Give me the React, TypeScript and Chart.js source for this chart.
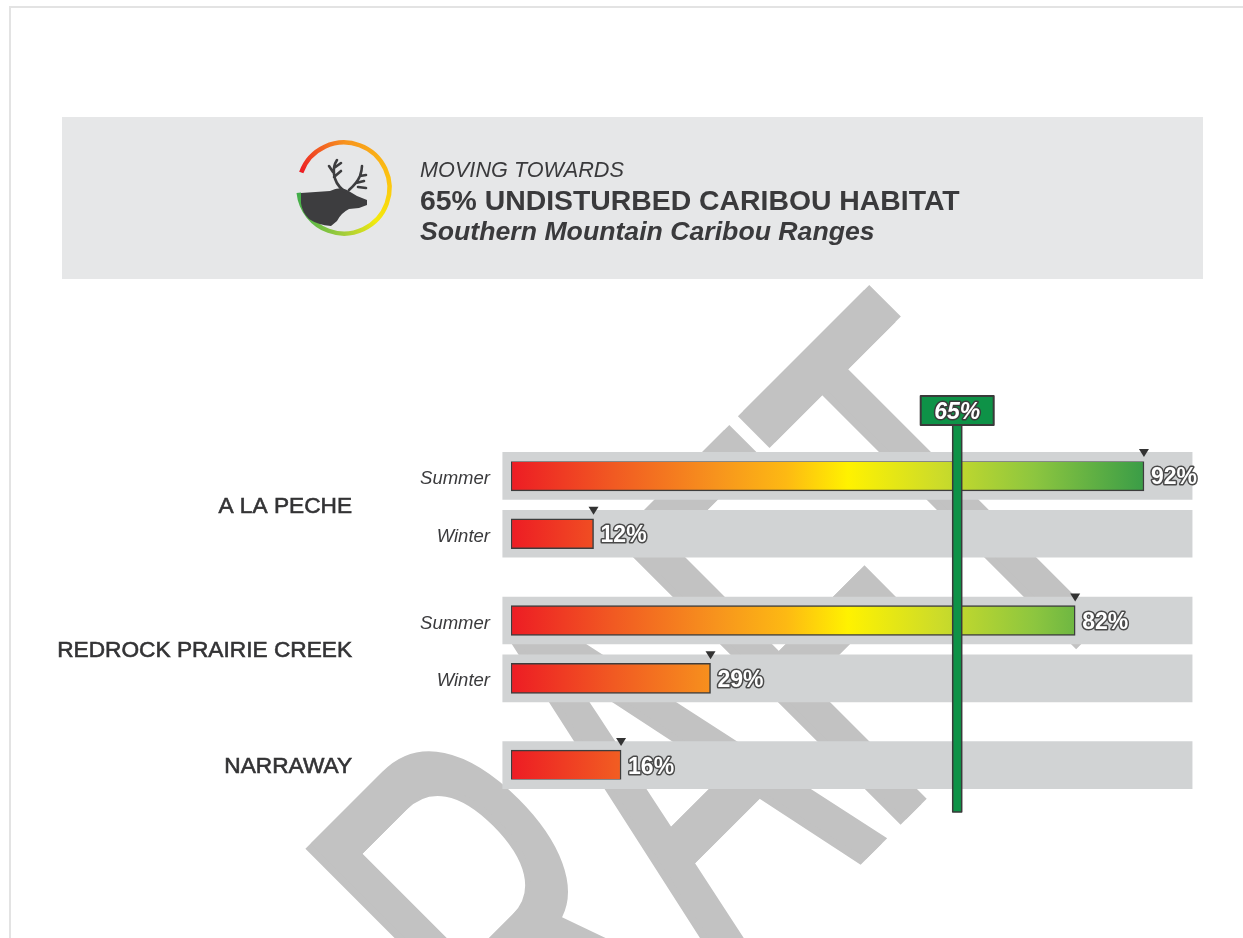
import React, { useEffect, useRef } from "react";
import { Chart, registerables } from "chart.js";

Chart.register(...registerables);

const W = 1243;
const H = 938;

// ---------------- data ----------------
const rangeNames = ["A LA PECHE", "A LA PECHE", "REDROCK PRAIRIE CREEK", "REDROCK PRAIRIE CREEK", "NARRAWAY"];
const seasonNames = ["Summer", "Winter", "Summer", "Winter", ""];
const undisturbedPct = [92, 12, 82, 29, 16];
const targetPct = 65;
const axisMin = 0;
const axisMax = 100;
const titleLines = ["MOVING TOWARDS", "65% UNDISTURBED CARIBOU HABITAT", "Southern Mountain Caribou Ranges"];
const watermarkText = "DRAFT";

// ---------------- styling ----------------
const FONT = '"Liberation Sans", Arial, Helvetica, sans-serif';
const TRACK_FROM = -1.2;
const TRACK_TO = 99;
const GRADIENT_STOPS: [number, string][] = [
  [0, "#ed1c24"],
  [0.15, "#f15a22"],
  [0.3, "#f7941d"],
  [0.4, "#fdb913"],
  [0.49, "#fff200"],
  [0.62, "#cddc29"],
  [0.76, "#8dc63f"],
  [0.92, "#3a9d47"],
  [1, "#2f9a48"],
];

// category slots: one blank slot between rows of the same range, two between ranges
const slotRange: string[] = [];
const slotSeason: string[] = [];
const slotValue: (number | null)[] = [];
rangeNames.forEach((name, i) => {
  if (i > 0) {
    const gaps = name === rangeNames[i - 1] ? 1 : 2;
    for (let g = 0; g < gaps; g++) {
      slotRange.push("");
      slotSeason.push("");
      slotValue.push(null);
    }
  }
  slotRange.push(name);
  slotSeason.push(seasonNames[i]);
  slotValue.push(undisturbedPct[i]);
});
const slotLabels = slotRange.map((r, i) => (r ? `${r} ${slotSeason[i]}`.trim() : ""));

function fitSize(ctx: CanvasRenderingContext2D, text: string, style: string, target: number) {
  ctx.font = `${style} 100px ${FONT}`;
  return (100 * target) / ctx.measureText(text).width;
}

function drawLogo(ctx: CanvasRenderingContext2D, cx: number, cy: number) {
  const r = 45.5;
  const a0 = (200 * Math.PI) / 180;
  const a1 = (174 * Math.PI) / 180 + Math.PI * 2;
  const g = (ctx as any).createConicGradient(a0, cx, cy);
  g.addColorStop(0, "#ed1c24");
  g.addColorStop(0.1, "#f15a22");
  g.addColorStop(0.2, "#f7941d");
  g.addColorStop(0.44, "#fcc90f");
  g.addColorStop(0.57, "#f4ea0c");
  g.addColorStop(0.69, "#a6ce39");
  g.addColorStop(0.82, "#5cb847");
  g.addColorStop(1, "#2ea44b");
  ctx.save();
  ctx.strokeStyle = g;
  ctx.lineWidth = 4.5;
  ctx.beginPath();
  ctx.arc(cx, cy, r, a0, a1);
  ctx.stroke();

  // caribou silhouette
  const p = (x: number, y: number): [number, number] => [cx + x - 344, cy + y - 188];
  ctx.fillStyle = "#3d3d3f";
  ctx.beginPath();
  ctx.moveTo(...p(301, 193));
  ctx.lineTo(...p(330, 191));
  ctx.quadraticCurveTo(...p(340, 186), ...p(347, 190));
  ctx.lineTo(...p(357, 196));
  ctx.lineTo(...p(367, 200));
  ctx.lineTo(...p(367, 205));
  ctx.lineTo(...p(359, 208));
  ctx.lineTo(...p(349, 209));
  ctx.quadraticCurveTo(...p(341, 213), ...p(337, 221));
  ctx.lineTo(...p(331, 226));
  ctx.quadraticCurveTo(...p(318, 225), ...p(309, 219));
  ctx.quadraticCurveTo(...p(302, 212), ...p(301, 203));
  ctx.closePath();
  ctx.fill();

  ctx.strokeStyle = "#3d3d3f";
  ctx.lineWidth = 2.6;
  ctx.lineCap = "round";
  ctx.beginPath();
  ctx.moveTo(...p(344, 191));
  ctx.quadraticCurveTo(...p(335, 184), ...p(334, 174));
  ctx.quadraticCurveTo(...p(333, 166), ...p(337, 160));
  ctx.moveTo(...p(334, 177));
  ctx.lineTo(...p(341, 171));
  ctx.moveTo(...p(334, 168));
  ctx.lineTo(...p(341, 163));
  ctx.moveTo(...p(333, 172));
  ctx.lineTo(...p(329, 166));
  ctx.moveTo(...p(349, 190));
  ctx.quadraticCurveTo(...p(357, 183), ...p(360, 176));
  ctx.quadraticCurveTo(...p(362, 170), ...p(362, 166));
  ctx.moveTo(...p(356, 183));
  ctx.lineTo(...p(364, 181));
  ctx.moveTo(...p(360, 176));
  ctx.lineTo(...p(366, 175));
  ctx.moveTo(...p(358, 187));
  ctx.lineTo(...p(366, 188));
  ctx.stroke();
  ctx.restore();
}

const pagePlugin = {
  id: "page",
  beforeDraw(chart: any) {
    const ctx: CanvasRenderingContext2D = chart.ctx;
    ctx.save();
    ctx.fillStyle = "#ffffff";
    ctx.fillRect(0, 0, W, H);
    // page edge
    ctx.fillStyle = "#e3e3e3";
    ctx.fillRect(9, 6, W - 9, 2);
    ctx.fillRect(9, 6, 2, H - 6);

    // watermark
    ctx.save();
    ctx.rotate(-Math.PI / 4);
    // keep the first letter outside the visible page, as in the source
    ctx.beginPath();
    ctx.rect(-395, 0, 2000, 2000);
    ctx.clip();
    const sx = 0.537;
    ctx.scale(sx, 1);
    ctx.font = `587px ${FONT}`;
    ctx.fillStyle = "#c2c2c2";
    ctx.textBaseline = "alphabetic";
    ctx.textAlign = "left";
    const x0 = -634 / sx;
    ctx.fillText(watermarkText, x0 - 7, 1220);
    ctx.fillText(watermarkText, x0 + 7, 1220);
    ctx.restore();

    // header band
    ctx.fillStyle = "#e6e7e8";
    ctx.fillRect(62, 117, 1141, 162);
    drawLogo(ctx, 344, 188);

    ctx.fillStyle = "#3a3a3c";
    ctx.textAlign = "left";
    ctx.textBaseline = "alphabetic";
    let s = fitSize(ctx, titleLines[0], "italic", 204);
    ctx.font = `italic ${s}px ${FONT}`;
    ctx.fillText(titleLines[0], 420, 177);
    s = fitSize(ctx, titleLines[1], "bold", 540);
    ctx.font = `bold ${s}px ${FONT}`;
    ctx.fillText(titleLines[1], 420, 210);
    s = fitSize(ctx, titleLines[2], "italic bold", 455);
    ctx.font = `italic bold ${s}px ${FONT}`;
    ctx.fillText(titleLines[2], 420, 240);
    ctx.restore();
  },
};

const overlayPlugin = {
  id: "overlay",
  afterDatasetsDraw(chart: any) {
    const ctx: CanvasRenderingContext2D = chart.ctx;
    const xs = chart.scales.x;
    const ys = chart.scales.y;
    ctx.save();

    // range labels
    const groupSize = fitSize(ctx, "REDROCK PRAIRIE CREEK", "", 295);
    ctx.font = `${groupSize}px ${FONT}`;
    ctx.fillStyle = "#333335";
    ctx.strokeStyle = "#333335";
    ctx.lineWidth = 0.6;
    ctx.textAlign = "right";
    ctx.textBaseline = "alphabetic";
    const seen: string[] = [];
    slotRange.forEach((name) => {
      if (!name || seen.includes(name)) return;
      seen.push(name);
      const ys2 = slotRange.map((n, i) => (n === name ? ys.getPixelForValue(i) : null)).filter((v) => v !== null) as number[];
      const cy = ys2.reduce((a, b) => a + b, 0) / ys2.length;
      ctx.fillText(name, 352, cy + 8);
      ctx.strokeText(name, 352, cy + 8);
    });

    // season labels
    const seasonSize = fitSize(ctx, "Summer", "italic", 70);
    ctx.font = `italic ${seasonSize}px ${FONT}`;
    ctx.fillStyle = "#3a3a3c";
    ctx.textAlign = "right";
    slotSeason.forEach((season, i) => {
      if (!season) return;
      ctx.fillText(season, 490, ys.getPixelForValue(i) + 8);
    });

    // markers and value labels
    slotValue.forEach((v, i) => {
      if (v === null) return;
      const y = ys.getPixelForValue(i);
      const xe = xs.getPixelForValue(v);
      const top = y - 15;
      ctx.fillStyle = "#333333";
      ctx.beginPath();
      ctx.moveTo(xe - 5, top - 12);
      ctx.lineTo(xe + 5, top - 12);
      ctx.lineTo(xe, top - 4);
      ctx.closePath();
      ctx.fill();

      ctx.font = `bold 23px ${FONT}`;
      ctx.textAlign = "left";
      ctx.lineJoin = "round";
      ctx.lineWidth = 3;
      ctx.strokeStyle = "#4a4a4a";
      ctx.strokeText(`${v}%`, xe + 7, y + 8.5);
      ctx.fillStyle = "#ffffff";
      ctx.fillText(`${v}%`, xe + 7, y + 8.5);
    });

    // target marker
    const firstY = ys.getPixelForValue(0);
    const lastY = ys.getPixelForValue(slotValue.length - 1);
    const tx = xs.getPixelForValue(targetPct) - 1;
    const green = "#0e9247";
    ctx.fillStyle = green;
    ctx.strokeStyle = "#3a3a3a";
    ctx.lineWidth = 1.5;
    ctx.fillRect(tx - 4.5, firstY - 51, 9, lastY + 47 - (firstY - 51));
    ctx.strokeRect(tx - 4.5, firstY - 51, 9, lastY + 47 - (firstY - 51));
    ctx.lineWidth = 2;
    ctx.fillStyle = green;
    ctx.fillRect(tx - 36.5, firstY - 80, 73, 29);
    ctx.strokeRect(tx - 36.5, firstY - 80, 73, 29);
    ctx.font = `italic bold 23px ${FONT}`;
    ctx.textAlign = "center";
    ctx.lineWidth = 3;
    ctx.strokeStyle = "#3a3a3a";
    ctx.strokeText(`${targetPct}%`, tx, firstY - 57);
    ctx.fillStyle = "#ffffff";
    ctx.fillText(`${targetPct}%`, tx, firstY - 57);
    ctx.restore();
  },
};

function barGradient(c: any) {
  const ch = c.chart;
  const x = ch.scales && ch.scales.x;
  if (!x || !ch.chartArea) return "#f7941d";
  const p0 = x.getPixelForValue(axisMin);
  const p1 = x.getPixelForValue(axisMax);
  if (!isFinite(p0) || !isFinite(p1) || p0 === p1) return "#f7941d";
  const g = ch.ctx.createLinearGradient(p0, 0, p1, 0);
  GRADIENT_STOPS.forEach(([o, col]) => g.addColorStop(o, col));
  return g;
}

export default function App() {
  const ref = useRef<HTMLCanvasElement | null>(null);

  useEffect(() => {
    if (!ref.current) return;
    const chart = new Chart(ref.current, {
      type: "bar",
      data: {
        labels: slotLabels,
        datasets: [
          {
            label: "track",
            data: slotValue.map((v) => (v === null ? null : [TRACK_FROM, TRACK_TO])) as any,
            backgroundColor: "#d1d3d4",
            borderWidth: 0,
            barThickness: 47,
            grouped: false,
            order: 2,
            clip: false as any,
          },
          {
            label: "Undisturbed habitat (%)",
            data: slotValue as any,
            backgroundColor: barGradient,
            borderColor: "#3d3d3d",
            borderWidth: 1.5,
            borderSkipped: false,
            barThickness: 30,
            grouped: false,
            order: 1,
          },
        ],
      },
      options: {
        indexAxis: "y",
        responsive: false,
        animation: false,
        devicePixelRatio: 1,
        events: [],
        layout: { padding: { left: 511, right: 44, top: 461.5, bottom: 158.5 } },
        scales: {
          x: { type: "linear", min: axisMin, max: axisMax, display: false },
          y: { type: "category", display: false, offset: true },
        },
        plugins: {
          legend: { display: false },
          tooltip: { enabled: false },
          title: { display: false },
        },
      } as any,
      plugins: [pagePlugin, overlayPlugin],
    });
    chart.update();
    return () => chart.destroy();
  }, []);

  return (
    <div style={{ position: "fixed", left: 0, top: 0, width: W, height: H, background: "#fff" }}>
      <canvas ref={ref} width={W} height={H} style={{ display: "block" }} />
    </div>
  );
}
